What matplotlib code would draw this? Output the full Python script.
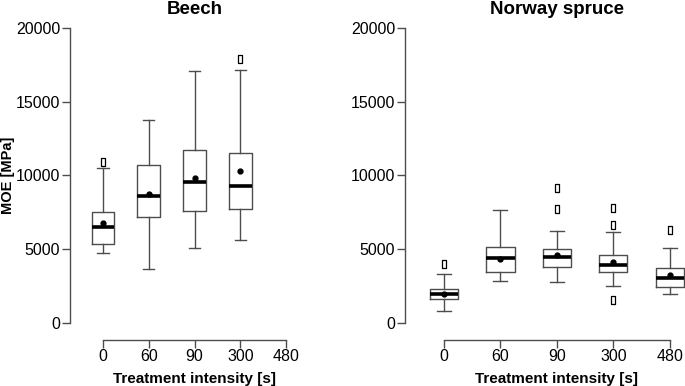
import matplotlib
matplotlib.use("Agg")
import matplotlib.pyplot as plt

plt.rcParams['font.family'] = ['Liberation Sans', 'DejaVu Sans']

# treatment intensities (x tick labels)
treatments = ["0", "60", "90", "300", "480"]

# ---- Beech (no 480 s group)
beech_pos = [1, 2, 3, 4]
beech_wlo = [4770, 3640, 5110, 5650]
beech_q1 = [5380, 7160, 7570, 7730]
beech_med = [6490, 8610, 9560, 9290]
beech_q3 = [7530, 10710, 11730, 11550]
beech_whi = [10530, 13760, 17060, 17150]
beech_mean = [6780, 8750, 9810, 10280]
beech_fliers = [[10900], [], [], [17900]]

# ---- Norway spruce
spruce_pos = [1, 2, 3, 4, 5]
spruce_wlo = [790, 2830, 2760, 2510, 1950]
spruce_q1 = [1630, 3440, 3800, 3480, 2460]
spruce_med = [1970, 4430, 4470, 3910, 3030]
spruce_q3 = [2310, 5130, 5040, 4590, 3710]
spruce_whi = [3300, 7680, 6220, 6170, 5110]
spruce_mean = [1970, 4360, 4590, 4160, 3230]
spruce_fliers = [[4020], [], [9170, 7730], [7820, 6640, 1580], [6330]]

W, H = 685, 386
fig = plt.figure(figsize=(W / 100, H / 100), dpi=100)

# narrow hollow rectangle, like R's outlier symbol here
rect = [(-0.5, -1), (0.5, -1), (0.5, 1), (-0.5, 1), (-0.5, -1)]
gray = "#4d4d4d"


def panel(rect_px, xlim, title, pos, wlo, q1, med, q3, whi, mean, fliers):
    l, r, t, b = rect_px
    ax = fig.add_axes([l / W, 1 - b / H, (r - l) / W, (b - t) / H])
    stats = []
    for i in range(len(pos)):
        stats.append(dict(whislo=wlo[i], q1=q1[i], med=med[i], q3=q3[i],
                          whishi=whi[i], fliers=fliers[i]))
    ax.bxp(stats, positions=pos, widths=0.5, capwidths=0.25,
           boxprops=dict(color=gray, lw=1.0),
           whiskerprops=dict(color=gray, lw=1.0, ls="-"),
           capprops=dict(color=gray, lw=1.0),
           medianprops=dict(color="black", lw=2.6, solid_capstyle="butt"),
           flierprops=dict(marker=rect, markersize=6, markerfacecolor="none",
                           markeredgecolor="black", markeredgewidth=0.9, ls="none"),
           manage_ticks=False)
    ax.plot(pos, mean, "o", color="black", markersize=3.5, zorder=5)

    ax.set_xlim(*xlim)
    ax.set_ylim(0, 20000)
    ax.spines["top"].set_visible(False)
    ax.spines["right"].set_visible(False)
    for s in ("left", "bottom"):
        ax.spines[s].set_color(gray)
        ax.spines[s].set_linewidth(1.0)
    ax.spines["bottom"].set_position(("outward", 12))
    ax.spines["bottom"].set_bounds(1, 5)
    ax.set_xticks([1, 2, 3, 4, 5])
    ax.set_xticklabels(treatments)
    ax.set_yticks([0, 5000, 10000, 15000, 20000])
    ax.tick_params(axis="both", length=5.5, width=1.0, color=gray, labelsize=11.5)
    ax.tick_params(axis="x", pad=1)
    ax.tick_params(axis="y", pad=1.5)
    ax.patch.set_visible(False)

    ax.text(3, 1.035, title, transform=ax.get_xaxis_transform(), ha="center",
            va="bottom", fontsize=13.5, fontweight="bold")
    ax.text(3, -0.19, "Treatment intensity [s]", transform=ax.get_xaxis_transform(),
            ha="center", va="center", fontsize=11, fontweight="bold")
    return ax


ax1 = panel((70, 309, 28, 323), (0.28, 5.5), "Beech", beech_pos, beech_wlo, beech_q1,
            beech_med, beech_q3, beech_whi, beech_mean, beech_fliers)
ax2 = panel((405, 685, 28, 323), (0.31, 5.27), "Norway spruce", spruce_pos, spruce_wlo,
            spruce_q1, spruce_med, spruce_q3, spruce_whi, spruce_mean, spruce_fliers)

# y label sits at the far left edge, outside the tick labels
fig.text(8.5 / W, 1 - 175 / H, "MOE [MPa]", rotation=90, ha="center", va="center",
         fontsize=10.5, fontweight="bold")

fig.savefig("out.png", dpi=100)
